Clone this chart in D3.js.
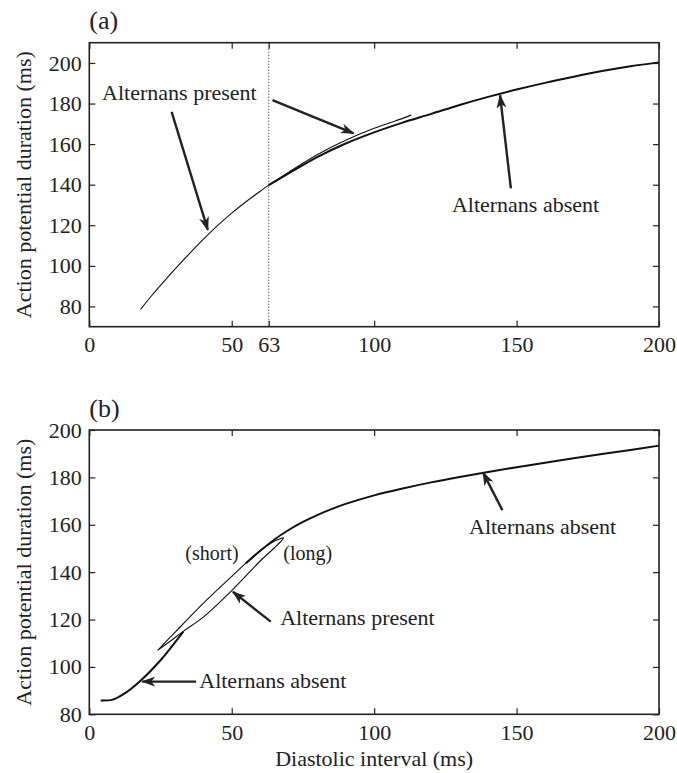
<!DOCTYPE html>
<html>
<head>
<meta charset="utf-8">
<script src="https://cdn.jsdelivr.net/npm/d3@7"></script>
<style>
  body { margin: 0; background: #fff; }
</style>
</head>
<body>
<div class="canvas"></div>
<script>
// panel (a) data
const diPresentA = [18, 22, 26, 30, 35, 40, 45, 50, 55, 60, 63, 70, 80, 90, 100, 107, 113];
const apdPresentA = [78.5, 85.5, 92, 98.3, 105.8, 113, 119.8, 126, 131.6, 136.8, 139.8, 146.2, 154.8, 161.9, 167.8, 171.2, 174.3];
const diAbsentA = [63, 70, 80, 90, 100, 110, 120, 130, 140, 150, 160, 170, 180, 190, 200];
const apdAbsentA = [139.8, 145.6, 153.6, 160.3, 165.8, 170.6, 174.9, 179.3, 183.3, 186.9, 190.2, 193.2, 196, 198.4, 200.3];

// panel (b) data
const diAbsentB1 = [4, 8, 12, 18, 25, 33];
const apdAbsentB1 = [85.8, 86.1, 88.5, 94.2, 102.8, 114.9];
const diLoopB = [24, 30, 40, 50, 55, 60, 64, 67, 68.2, 67.5, 65, 60, 50, 40, 33, 28, 24];
const apdLoopB = [107, 114.5, 126.8, 138.2, 143.8, 149, 152.4, 154.1, 154.5, 153.3, 150.3, 144.7, 132.2, 121, 115, 110.5, 107];
const diAbsentB2 = [55, 60, 65, 70, 75, 80, 85, 90, 100, 110, 120, 130, 140, 150, 160, 170, 180, 190, 200];
const apdAbsentB2 = [143.8, 149, 153.8, 157.8, 161.2, 164.1, 166.6, 168.8, 172.4, 175.3, 177.9, 180.2, 182.3, 184.3, 186.2, 188.1, 189.9, 191.6, 193.4];

// tick labels
const xTicksA = [0, 50, 63, 100, 150, 200];
const xTicksB = [0, 50, 100, 150, 200];
const yTicks = [80, 100, 120, 140, 160, 180, 200];

const serif = '"Liberation Serif", "Times New Roman", serif';
const toPts = (xs, ys) => xs.map((d, i) => [d, ys[i]]);

const svg = d3
	.select('.canvas')
	.append('svg')
	.attr('width', 677)
	.attr('height', 773);

svg.append('rect').attr('width', 677).attr('height', 773).attr('fill', '#fff');

svg.append('defs').append('marker')
	.attr('id', 'head')
	.attr('viewBox', '0 0 14 10')
	.attr('refX', 13)
	.attr('refY', 5)
	.attr('markerWidth', 14)
	.attr('markerHeight', 10)
	.attr('markerUnits', 'userSpaceOnUse')
	.attr('orient', 'auto')
	.append('path')
	.attr('d', 'M0,0 L14,5 L0,10 L4,5 Z')
	.attr('fill', '#222');

const left = 89.3, right = 659;

// builds one panel
const panel = (cfg) => {
	const x = d3.scaleLinear().domain([0, 200]).range([left, right]);
	const y = d3.scaleLinear().domain(cfg.yDomain).range([cfg.bottom, cfg.top]);
	const g = svg.append('g');

	const xAxis = d3.axisBottom(x).tickValues(cfg.xTicks).tickSize(-6).tickPadding(10).tickFormat(d3.format('d'));
	const yAxis = d3.axisLeft(y).tickValues(yTicks).tickSize(-6).tickPadding(7.5);

	g.append('g').attr('transform', `translate(0, ${cfg.bottom})`).call(xAxis);
	g.append('g').attr('transform', `translate(${left}, 0)`).call(yAxis);
	g.append('g').attr('transform', `translate(0, ${cfg.top})`)
		.call(d3.axisTop(x).tickValues(cfg.xTicks).tickSize(-6).tickFormat(''));
	g.append('g').attr('transform', `translate(${right}, 0)`)
		.call(d3.axisRight(y).tickValues(yTicks).tickSize(-6).tickFormat(''));

	g.selectAll('.domain').remove();
	g.selectAll('.tick line').attr('stroke', '#222').attr('stroke-width', 1.2);
	g.selectAll('.tick text').style('font-family', serif).style('font-size', '22px').attr('fill', '#222');

	g.append('rect')
		.attr('x', left).attr('y', cfg.top)
		.attr('width', right - left).attr('height', cfg.bottom - cfg.top)
		.attr('fill', 'none').attr('stroke', '#222').attr('stroke-width', 1.6);

	g.append('text')
		.attr('x', left).attr('y', cfg.top - 13.5)
		.style('font-family', serif).style('font-size', '26px')
		.attr('fill', '#222')
		.text(cfg.title);

	g.append('text')
		.attr('transform', `translate(31, ${(cfg.top + cfg.bottom) / 2}) rotate(-90)`)
		.attr('text-anchor', 'middle')
		.style('font-family', serif).style('font-size', '22px')
		.attr('fill', '#222')
		.text('Action potential duration (ms)');

	const line = d3.line().x(d => x(d[0])).y(d => y(d[1])).curve(d3.curveCatmullRom.alpha(0.5));
	cfg.lines.forEach(l => {
		g.append('path')
			.attr('d', line(l.pts))
			.attr('fill', 'none')
			.attr('stroke', '#111')
			.attr('stroke-width', l.w);
	});

	cfg.arrows.forEach(a => {
		g.append('line')
			.attr('x1', x(a[0])).attr('y1', y(a[1]))
			.attr('x2', x(a[2])).attr('y2', y(a[3]))
			.attr('stroke', '#222').attr('stroke-width', 2.4)
			.attr('marker-end', 'url(#head)');
	});

	cfg.labels.forEach(t => {
		g.append('text')
			.attr('x', x(t[0])).attr('y', y(t[1]))
			.style('font-family', serif).style('font-size', (t[3] || 22) + 'px')
			.attr('fill', '#222')
			.text(t[2]);
	});
	return { x, y, g };
};

const a = panel({
	title: '(a)', top: 42.7, bottom: 326.7, yDomain: [70, 210], xTicks: xTicksA,
	lines: [
		{ pts: toPts(diPresentA, apdPresentA), w: 1.1 },
		{ pts: toPts(diAbsentA, apdAbsentA), w: 2 }
	],
	arrows: [[28.9, 175.9, 41.6, 117.7], [64.3, 181.7, 92.8, 165.3], [148, 138.2, 144.2, 184.1]],
	labels: [[4.5, 181.7, 'Alternans present'], [127.3, 126.7, 'Alternans absent']]
});
// dotted marker at DI = 63
a.g.append('line')
	.attr('x1', a.x(63)).attr('x2', a.x(63))
	.attr('y1', 42.7).attr('y2', 326.7)
	.attr('stroke', '#222').attr('stroke-width', 1)
	.attr('stroke-dasharray', '1,2');

const b = panel({
	title: '(b)', top: 430, bottom: 714.3, yDomain: [80, 200], xTicks: xTicksB,
	lines: [
		{ pts: toPts(diAbsentB1, apdAbsentB1), w: 2 },
		{ pts: toPts(diLoopB, apdLoopB), w: 1.1 },
		{ pts: toPts(diAbsentB2, apdAbsentB2), w: 2 }
	],
	arrows: [[145, 166.2, 138.2, 182.1], [63.7, 119.1, 50.4, 131.7], [37.5, 93.8, 18.6, 93.8]],
	labels: [[133.3, 156.1, 'Alternans absent'], [33.7, 145.1, '(short)', 20], [68.1, 145.1, '(long)', 20],
		[67, 117.7, 'Alternans present'], [38.6, 91, 'Alternans absent']]
});

svg.append('text')
	.attr('x', (left + right) / 2).attr('y', 766)
	.attr('text-anchor', 'middle')
	.style('font-family', serif).style('font-size', '22px')
	.attr('fill', '#222')
	.text('Diastolic interval (ms)');
</script>
</body>
</html>
